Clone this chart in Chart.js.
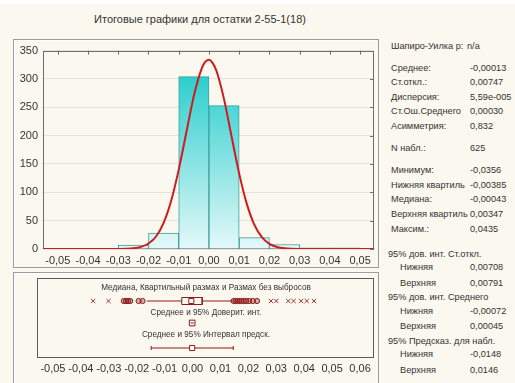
<!DOCTYPE html>
<html>
<head>
<meta charset="utf-8">
<script src="https://cdn.jsdelivr.net/npm/chart.js@4/dist/chart.umd.min.js"></script>
<style>
  body { margin:0; width:515px; height:383px; background:#fff; overflow:hidden;
         font-family:"Liberation Sans", Arial, sans-serif; color:#333; }
  #page { position:absolute; left:0; top:4px; width:515px; height:379px; background:#fbf8ef; }
  .frame { position:absolute; border:1px solid #9c9c9c; box-shadow:inset 1px 1px 0 #fff; }
  canvas { position:absolute; }
  #title { position:absolute; left:0; top:13px; width:400px; text-align:center; font-size:11px; }
  .blabel { position:absolute; left:37px; width:338px; text-align:center; font-size:8.2px; line-height:10px; }
  .st { position:absolute; left:391px; font-size:9.2px; line-height:12px; white-space:nowrap; }
  .st.h { left:388px; }
  .st.i { left:400px; }
  .st span { display:inline-block; min-width:77px; padding-right:2px; }
  .st.i span { min-width:68px; }
</style>
</head>
<body>
<div id="page"></div>
<div id="title">Итоговые графики для остатки 2-55-1(18)</div>

<div class="frame" style="left:13px;top:39px;width:364px;height:227px"></div>
<div class="frame" style="left:13px;top:272px;width:364px;height:112px"></div>
<canvas id="hist" width="366" height="229" style="left:13px;top:39px"></canvas>
<canvas id="box" width="366" height="111" style="left:13px;top:272px"></canvas>

<div class="blabel" style="top:283px">Медиана, Квартильный размах и Размах без выбросов</div>
<div class="blabel" style="top:308px">Среднее и 95% Доверит. инт.</div>
<div class="blabel" style="top:330px">Среднее и 95% Интервал предск.</div>

<div class="st" style="top:40px"><span style="min-width:74px">Шапиро-Уилка р:</span>n/a</div>
<div class="st" style="top:62px"><span>Среднее:</span>-0,00013</div>
<div class="st" style="top:76px"><span>Ст.откл.:</span>0,00747</div>
<div class="st" style="top:91px"><span>Дисперсия:</span>5,59e-005</div>
<div class="st" style="top:105px"><span>Ст.Ош.Среднего</span>0,00030</div>
<div class="st" style="top:120px"><span>Асимметрия:</span>0,832</div>
<div class="st" style="top:142px"><span>N набл.:</span>625</div>
<div class="st" style="top:164px"><span>Минимум:</span>-0,0356</div>
<div class="st" style="top:179px"><span>Нижняя квартиль</span>-0,00385</div>
<div class="st" style="top:193px"><span>Медиана:</span>-0,00043</div>
<div class="st" style="top:208px"><span>Верхняя квартиль</span>0,00347</div>
<div class="st" style="top:223px"><span>Максим.:</span>0,0435</div>
<div class="st h" style="top:248px">95% дов. инт. Ст.откл.</div>
<div class="st i" style="top:261px"><span>Нижняя</span>0,00708</div>
<div class="st i" style="top:277px"><span>Верхняя</span>0,00791</div>
<div class="st h" style="top:291px">95% дов. инт. Среднего</div>
<div class="st i" style="top:305px"><span>Нижняя</span>-0,00072</div>
<div class="st i" style="top:320px"><span>Верхняя</span>0,00045</div>
<div class="st h" style="top:335px">95% Предсказ. для набл.</div>
<div class="st i" style="top:348px"><span>Нижняя</span>-0,0148</div>
<div class="st i" style="top:364px"><span>Верхняя</span>0,0146</div>

<script>
/* ── data ── */
const BIN_MID   = [-0.035, -0.025, -0.015, -0.005, 0.005, 0.015, 0.025, 0.035, 0.045];
const BIN_COUNT = [1, 7, 28, 304, 253, 20, 8, 2, 2];

const CURVE_X = [-0.0549, -0.035, -0.03, -0.025, -0.0225, -0.02, -0.0175, -0.015, -0.0125, -0.01,
                 -0.0075, -0.005, -0.0025, -0.00125, 0, 0.00125, 0.0025, 0.005, 0.0075, 0.01,
                 0.0125, 0.015, 0.0175, 0.02, 0.0225, 0.025, 0.03, 0.035, 0.0546];
const CURVE_Y = [0, 0, 0.1, 1.3, 3.8, 9.7, 22, 46, 85, 140,
                 205, 270, 317, 330, 334, 328, 314, 264, 198, 133,
                 80, 43, 21, 9, 3.4, 1.2, 0.1, 0, 0];

const HIST_X_TICKS = [-0.05, -0.04, -0.03, -0.02, -0.01, 0, 0.01, 0.02, 0.03, 0.04, 0.05];
const BOX_X_TICKS  = [-0.05, -0.04, -0.03, -0.02, -0.01, 0, 0.01, 0.02, 0.03, 0.04, 0.05, 0.06];

const MEDIAN = -0.00043, Q1 = -0.00385, Q3 = 0.00347;
const WHISKERS = [-0.0163, 0.0143];
const OUTLIERS = [-0.0246, -0.0238, -0.0231, -0.0223, -0.0193, -0.0179,
                  0.0147, 0.0154, 0.0161, 0.0168, 0.0175, 0.0183, 0.0192, 0.0203, 0.0216, 0.0231];
const EXTREMES = [-0.0356, -0.0301, 0.0281, 0.0300, 0.0343, 0.0362, 0.0389, 0.0409, 0.0435];
const MEAN = -0.00013;
const MEAN_CI = [-0.00072, 0.00045];
const PRED_INT = [-0.0148, 0.0146];

/* rows of the box panel, in pixels from its top */
const ROW_BOX = 23, ROW_CI = 45, ROW_PI = 70;

const MAROON = '#8a1c1c';
const fmt = v => v.toFixed(2).replace('.', ',').replace('-0,00', '0,00');

Chart.defaults.font.family = '"Liberation Sans", Arial, sans-serif';
Chart.defaults.color = '#333';

const framePlugin = {
  id: 'frame',
  beforeDatasetsDraw(chart, args, opts) {
    const { ctx, chartArea: a, scales } = chart;
    ctx.save();
    ctx.strokeStyle = opts.color;
    ctx.lineWidth = 1;
    ctx.strokeRect(Math.round(a.left) + 0.5, Math.round(a.top) + 0.5,
                   Math.round(a.right - a.left) - 1, Math.round(a.bottom - a.top) - 1);
    if (opts.innerTicks) {
      ctx.beginPath();
      scales.x.ticks.forEach(t => {
        const px = Math.round(scales.x.getPixelForValue(t.value)) + 0.5;
        ctx.moveTo(px, a.top); ctx.lineTo(px, a.top + 4);
      });
      scales.y.ticks.forEach(t => {
        const py = Math.round(scales.y.getPixelForValue(t.value)) + 0.5;
        ctx.moveTo(a.right, py); ctx.lineTo(a.right - 4, py);
      });
      ctx.stroke();
    }
    ctx.restore();
  }
};

function barGradient(c) {
  const area = c.chart.chartArea;
  if (!area) return '#8fe3e3';
  const g = c.chart.ctx.createLinearGradient(0, area.top, 0, area.bottom);
  g.addColorStop(0, '#12c8c8');
  g.addColorStop(1, '#e4f8f8');
  return g;
}

/* ══ histogram ══ */
new Chart(document.getElementById('hist'), {
  type: 'bar',
  data: {
    datasets: [
      {
        type: 'line',
        data: CURVE_X.map((x, i) => ({ x, y: CURVE_Y[i] })),
        borderColor: '#d01a1e', borderWidth: 2, pointRadius: 0,
        cubicInterpolationMode: 'monotone', fill: false, order: 0
      },
      {
        type: 'bar',
        data: BIN_MID.map((x, i) => ({ x, y: BIN_COUNT[i] })),
        backgroundColor: barGradient, borderColor: '#3d9e9e', borderWidth: 1,
        barPercentage: 1, categoryPercentage: 1, order: 1
      }
    ]
  },
  options: {
    responsive: false, animation: false,
    layout: { padding: { left: 0, top: 10, right: 5, bottom: 0 } },
    plugins: { legend: { display: false }, tooltip: { enabled: false },
               frame: { color: '#6e6e6e', innerTicks: true } },
    scales: {
      x: {
        type: 'linear', min: -0.0549, max: 0.0546, offset: false,
        grid: { display: false, drawTicks: false }, border: { display: false },
        afterBuildTicks: s => { s.ticks = HIST_X_TICKS.map(v => ({ value: v })); },
        afterFit: s => { s.height = 19; },
        ticks: { callback: fmt, font: { size: 11 }, padding: 5, maxRotation: 0, autoSkip: false }
      },
      y: {
        min: 0, max: 350,
        grid: { color: '#e2e2e2', drawTicks: false }, border: { display: false },
        afterFit: s => { s.width = 30; },
        ticks: { stepSize: 50, font: { size: 11 }, padding: 5 }
      }
    }
  },
  plugins: [framePlugin]
});

/* ══ box panel ══ */
const line = (pts, extra) => Object.assign({
  data: pts, showLine: true, borderColor: MAROON, borderWidth: 1, pointRadius: 0, fill: false
}, extra || {});

new Chart(document.getElementById('box'), {
  type: 'scatter',
  data: {
    datasets: [
      // median marker
      { data: [{ x: MEDIAN, y: ROW_BOX }], pointStyle: 'rect', pointRadius: 3.6,
        backgroundColor: '#fff', borderColor: MAROON, borderWidth: 1 },
      // box
      line([{ x: Q1, y: ROW_BOX - 3.5 }, { x: Q3, y: ROW_BOX - 3.5 }, { x: Q3, y: ROW_BOX + 3.5 },
            { x: Q1, y: ROW_BOX + 3.5 }, { x: Q1, y: ROW_BOX - 3.5 }]),
      // whiskers
      line([{ x: WHISKERS[0], y: ROW_BOX }, { x: Q1, y: ROW_BOX }]),
      line([{ x: Q3, y: ROW_BOX }, { x: WHISKERS[1], y: ROW_BOX }]),
      // outliers
      { data: OUTLIERS.map(x => ({ x, y: ROW_BOX })), pointStyle: 'circle', pointRadius: 2.6,
        backgroundColor: 'rgba(150,35,35,0.35)', borderColor: MAROON, borderWidth: 1 },
      { data: EXTREMES.map(x => ({ x, y: ROW_BOX })), pointStyle: 'crossRot', pointRadius: 3,
        borderColor: '#9a3a3a', borderWidth: 1 },
      // mean + 95% CI
      line([{ x: MEAN_CI[0], y: ROW_CI }, { x: MEAN_CI[1], y: ROW_CI }]),
      { data: [{ x: MEAN, y: ROW_CI }], pointStyle: 'rect', pointRadius: 4,
        backgroundColor: '#fff', borderColor: MAROON, borderWidth: 1 },
      // mean + 95% prediction interval
      { data: [{ x: MEAN, y: ROW_PI }], pointStyle: 'rect', pointRadius: 3.6,
        backgroundColor: '#fff', borderColor: MAROON, borderWidth: 1 },
      line([{ x: PRED_INT[0], y: ROW_PI }, { x: PRED_INT[1], y: ROW_PI }],
           { pointStyle: 'line', pointRadius: 2, pointRotation: 90, pointBorderColor: MAROON })
    ]
  },
  options: {
    responsive: false, animation: false,
    layout: { padding: { left: 24, top: 6, right: 4, bottom: 0 } },
    plugins: { legend: { display: false }, tooltip: { enabled: false },
               frame: { color: '#5a5a5a', innerTicks: false } },
    scales: {
      x: {
        type: 'linear', min: -0.0557, max: 0.065,
        grid: { display: false, drawTicks: false }, border: { display: false },
        afterBuildTicks: s => { s.ticks = BOX_X_TICKS.map(v => ({ value: v })); },
        afterFit: s => { s.height = 25; },
        ticks: { callback: fmt, font: { size: 11 }, padding: 4, maxRotation: 0, autoSkip: false }
      },
      y: { display: false, min: 0, max: 80, reverse: true }
    }
  },
  plugins: [framePlugin]
});
</script>
</body>
</html>
